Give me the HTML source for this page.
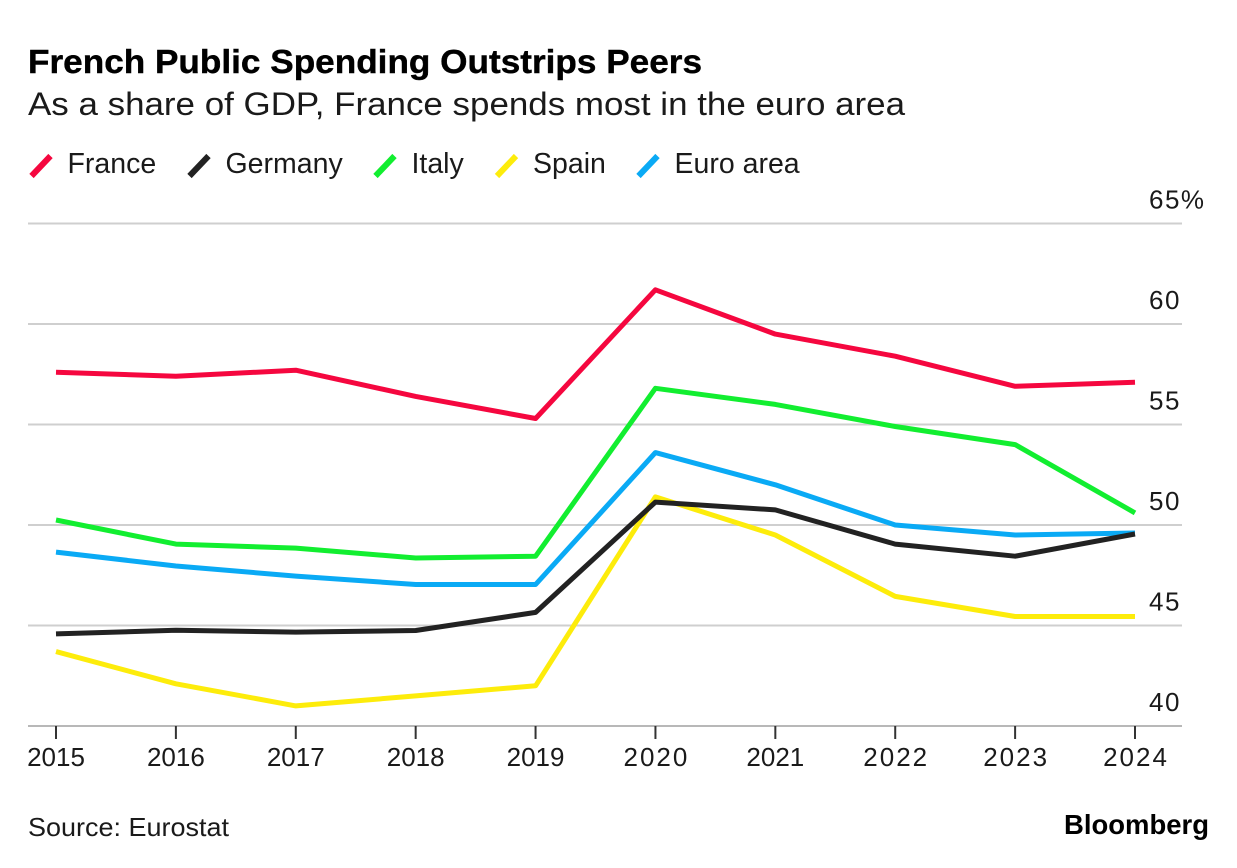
<!DOCTYPE html>
<html>
<head>
<meta charset="utf-8">
<style>
html,body{margin:0;padding:0;background:#fff;}
body{width:1237px;height:868px;overflow:hidden;position:relative;font-family:"Liberation Sans",sans-serif;color:#1a1a1a;}
svg{position:absolute;left:0;top:0;}
text{font-family:"Liberation Sans",sans-serif;}
</style>
</head>
<body>
<svg id="chart" width="1237" height="868" viewBox="0 0 1237 868">
<text x="28" y="73" font-size="33" font-weight="700" fill="#000" stroke="#000" stroke-width="0.4" textLength="674" lengthAdjust="spacingAndGlyphs">French Public Spending Outstrips Peers</text>
<text x="28" y="115" font-size="32" fill="#1a1a1a" textLength="877" lengthAdjust="spacingAndGlyphs">As a share of GDP, France spends most in the euro area</text>
<text x="28" y="836" font-size="26" fill="#1a1a1a" textLength="201" lengthAdjust="spacingAndGlyphs">Source: Eurostat</text>
<text x="1064" y="834" font-size="28" font-weight="700" fill="#000" textLength="145" lengthAdjust="spacingAndGlyphs">Bloomberg</text>
<g id="legend"></g>
<g id="grid"></g>
<g id="xaxis"></g>
<g id="series"></g>
</svg>
<script>
const years = [2015, 2016, 2017, 2018, 2019, 2020, 2021, 2022, 2023, 2024];
const yTicks = [40, 45, 50, 55, 60, 65];
const france = [57.6, 57.4, 57.7, 56.4, 55.3, 61.7, 59.5, 58.4, 56.9, 57.1];
const germany = [44.58, 44.76, 44.67, 44.75, 45.65, 51.14, 50.75, 49.05, 48.45, 49.55];
const italy = [50.25, 49.05, 48.85, 48.36, 48.45, 56.8, 56.0, 54.9, 54.0, 50.6];
const spain = [43.7, 42.1, 41.0, 41.5, 42.0, 51.4, 49.5, 46.45, 45.45, 45.45];
const euroArea = [48.65, 47.96, 47.46, 47.04, 47.04, 53.6, 52.0, 50.0, 49.5, 49.6];
const seriesNames = ['France', 'Germany', 'Italy', 'Spain', 'Euro area'];
const seriesValues = [france, germany, italy, spain, euroArea];
const seriesColors = ['#f5073f', '#222222', '#12ee30', '#fdec0b', '#0aaaf5'];
const drawOrder = [0, 2, 3, 4, 1];

const NS = 'http://www.w3.org/2000/svg';
const xScale = i => 56 + i * (1135 - 56) / (years.length - 1);
const yScale = v => 726 - (v - 40) * (726 - 223.5) / 25;

function make(tag, parent, props) {
  const el = document.createElementNS(NS, tag);
  Object.keys(props).forEach(k => el.setAttribute(k, props[k]));
  parent.appendChild(el);
  return el;
}

const grid = document.getElementById('grid');
yTicks.forEach((t, i) => {
  const y = yScale(t);
  const line = make('line', grid, {x1: 28, x2: 1182, y1: y, y2: y, stroke: i === 0 ? '#b8b8b8' : '#cfcfcf', 'stroke-width': 2});
  
  
  const label = make('text', grid, {x: 1149, y: y - 15, 'font-size': 26, fill: '#1a1a1a', 'letter-spacing': 1.5});
  label.textContent = i === yTicks.length - 1 ? t + '%' : String(t);
  
  
});

const xaxis = document.getElementById('xaxis');
years.forEach((yr, i) => {
  const x = xScale(i);
  const tick = make('line', xaxis, {x1: x, x2: x, y1: 726, y2: 739, stroke: '#333333', 'stroke-width': 2});
  
  
  const hasOne = String(yr).indexOf('1') >= 0;
  const label = make('text', xaxis, {x: x + (hasOne ? 0 : 1), y: 766, 'font-size': 26, fill: '#1a1a1a', 'text-anchor': 'middle', 'letter-spacing': hasOne ? 0 : 2});
  label.textContent = String(yr);
  
  
});

const seriesGroup = document.getElementById('series');
drawOrder.forEach(s => {
  const pts = seriesValues[s].map((v, i) => xScale(i).toFixed(1) + ',' + yScale(v).toFixed(1)).join(' ');
  const line = make('polyline', seriesGroup, {points: pts, fill: 'none', stroke: seriesColors[s], 'stroke-width': 5, 'stroke-linejoin': 'round'});
  
  
});

const legendX = [29.5, 187.5, 373.5, 495, 636.5];
const legend = document.getElementById('legend');
seriesNames.forEach((n, i) => {
  const x = legendX[i];
  const mark = make('line', legend, {x1: x + 2, y1: 176, x2: x + 21, y2: 156, stroke: seriesColors[i], 'stroke-width': 6});
  
  
  const label = make('text', legend, {x: x + 38, y: 173, 'font-size': 28.5, fill: '#1a1a1a'});
  label.textContent = n;
  
  
});
</script>
</body>
</html>
